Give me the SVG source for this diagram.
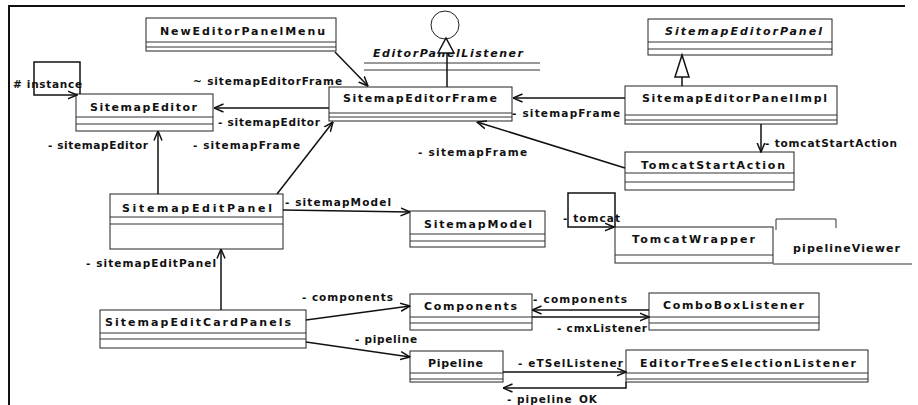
<svg xmlns="http://www.w3.org/2000/svg" width="918" height="405" viewBox="0 0 918 405">
<defs>
<style>
.box{fill:#fff;stroke:#222;stroke-width:1}
.sep{stroke:#333;stroke-width:1}
.nm{font-family:"DejaVu Sans","Liberation Sans",sans-serif;font-weight:bold;font-size:11px;fill:#111}
.it{font-style:italic}
.lb{font-family:"DejaVu Sans","Liberation Sans",sans-serif;font-weight:bold;font-size:10.5px;fill:#111}
.e{fill:none;stroke:#111;stroke-width:1.5;marker-end:url(#open)}
.ln{fill:none;stroke:#111;stroke-width:1.5}
.tri{fill:#fff;stroke:#111;stroke-width:1.5}
</style>
<marker id="open" markerUnits="userSpaceOnUse" viewBox="0 0 10 10" markerWidth="10" markerHeight="10" refX="9.5" refY="5" orient="auto">
<path d="M0,1 L9.5,5 L0,9" fill="none" stroke="#111" stroke-width="1.5"/>
</marker>
</defs>
<rect width="918" height="405" fill="#fff"/>
<path d="M9,405 V6 H905" fill="none" stroke="#111" stroke-width="2"/>

<g id="NewEditorPanelMenu">
<rect class="box" x="146" y="18" width="190" height="33"/>
<line class="sep" x1="146" y1="42" x2="336" y2="42"/>
<line class="sep" x1="146" y1="47" x2="336" y2="47"/>
<text class="nm" x="160" y="35" textLength="165">NewEditorPanelMenu</text>
</g>
<g id="EditorPanelListener">
<circle class="box" cx="445" cy="25" r="14"/>
<text class="nm it" x="373" y="57" textLength="150">EditorPanelListener</text>
<line class="sep" x1="364" y1="63" x2="540" y2="63"/>
<line class="sep" x1="364" y1="70" x2="540" y2="70"/>
</g>
<g id="SitemapEditorPanel">
<rect class="box" x="648" y="19" width="184" height="36"/>
<line class="sep" x1="648" y1="42" x2="832" y2="42"/>
<line class="sep" x1="648" y1="49" x2="832" y2="49"/>
<text class="nm it" x="665" y="35" textLength="157">SitemapEditorPanel</text>
</g>
<g id="SitemapEditor">
<rect class="box" x="76" y="94" width="137" height="37"/>
<line class="sep" x1="76" y1="117" x2="213" y2="117"/>
<line class="sep" x1="76" y1="124" x2="213" y2="124"/>
<text class="nm" x="90" y="111" textLength="107">SitemapEditor</text>
</g>
<g id="SitemapEditorFrame">
<rect class="box" x="329" y="87" width="183" height="34"/>
<line class="sep" x1="329" y1="113" x2="512" y2="113"/>
<line class="sep" x1="329" y1="117" x2="512" y2="117"/>
<text class="nm" x="343" y="102" textLength="154">SitemapEditorFrame</text>
</g>
<g id="SitemapEditorPanelImpl">
<rect class="box" x="625" y="86" width="212" height="38"/>
<line class="sep" x1="625" y1="115" x2="837" y2="115"/>
<line class="sep" x1="625" y1="120" x2="837" y2="120"/>
<text class="nm" x="642" y="102" textLength="185">SitemapEditorPanelImpl</text>
</g>
<g id="TomcatStartAction">
<rect class="box" x="625" y="152" width="169" height="38"/>
<line class="sep" x1="625" y1="173" x2="794" y2="173"/>
<line class="sep" x1="625" y1="182" x2="794" y2="182"/>
<text class="nm" x="641" y="169" textLength="144">TomcatStartAction</text>
</g>
<g id="SitemapEditPanel">
<rect class="box" x="110" y="194" width="173" height="55"/>
<line class="sep" x1="110" y1="217" x2="283" y2="217"/>
<line class="sep" x1="110" y1="224" x2="283" y2="224"/>
<text class="nm" x="122" y="212" textLength="150">SitemapEditPanel</text>
</g>
<g id="SitemapModel">
<rect class="box" x="410" y="211" width="135" height="36"/>
<line class="sep" x1="410" y1="234" x2="545" y2="234"/>
<line class="sep" x1="410" y1="241" x2="545" y2="241"/>
<text class="nm" x="424" y="228" textLength="108">SitemapModel</text>
</g>
<g id="TomcatWrapper">
<rect class="box" x="615" y="227" width="158" height="36"/>
<line class="sep" x1="615" y1="255" x2="773" y2="255"/>
<text class="nm" x="632" y="243" textLength="123">TomcatWrapper</text>
</g>
<g id="pipelineViewer">
<path d="M776,230 V219 H836 V228" fill="none" stroke="#333" stroke-width="1"/>
<line class="sep" x1="773" y1="264" x2="912" y2="264"/>
<text class="nm" x="793" y="252" textLength="107">pipelineViewer</text>
</g>
<g id="SitemapEditCardPanels">
<rect class="box" x="100" y="310" width="206" height="38"/>
<line class="sep" x1="100" y1="333" x2="306" y2="333"/>
<line class="sep" x1="100" y1="339" x2="306" y2="339"/>
<text class="nm" x="105" y="326" textLength="186">SitemapEditCardPanels</text>
</g>
<g id="Components">
<rect class="box" x="410" y="294" width="122" height="36"/>
<line class="sep" x1="410" y1="317" x2="532" y2="317"/>
<line class="sep" x1="410" y1="323" x2="532" y2="323"/>
<text class="nm" x="424" y="310" textLength="93">Components</text>
</g>
<g id="ComboBoxListener">
<rect class="box" x="649" y="293" width="170" height="37"/>
<line class="sep" x1="649" y1="317" x2="819" y2="317"/>
<line class="sep" x1="649" y1="323" x2="819" y2="323"/>
<text class="nm" x="663" y="309" textLength="141">ComboBoxListener</text>
</g>
<g id="Pipeline">
<rect class="box" x="410" y="351" width="93" height="31"/>
<line class="sep" x1="410" y1="373" x2="503" y2="373"/>
<line class="sep" x1="410" y1="379" x2="503" y2="379"/>
<text class="nm" x="428" y="367" textLength="55">Pipeline</text>
</g>
<g id="EditorTreeSelectionListener">
<rect class="box" x="626" y="350" width="242" height="32"/>
<line class="sep" x1="626" y1="373" x2="868" y2="373"/>
<line class="sep" x1="626" y1="379" x2="868" y2="379"/>
<text class="nm" x="640" y="367" textLength="216">EditorTreeSelectionListener</text>
</g>

<g id="connectors">
<path class="ln" d="M447,87 V53"/>
<polygon class="tri" points="446,38 438,53 454,53"/>
<path class="ln" d="M682,86 V77"/>
<polygon class="tri" points="682,55 675,77 689,77"/>
<path class="e" d="M80,94 V62 H34 V95 H77"/>
<path class="e" d="M335,52 L368,86"/>
<path class="e" d="M625,98 H513"/>
<path class="e" d="M329,108 H214"/>
<path class="e" d="M761,124 V152"/>
<path class="e" d="M625,168 L477,122"/>
<path class="e" d="M158,194 V131"/>
<path class="e" d="M277,194 L333,122"/>
<path class="e" d="M283,210 L410,212"/>
<path class="e" d="M615,227 V193 H568 V227 H614"/>
<path class="e" d="M221,310 V249"/>
<path class="e" d="M306,320 L410,306"/>
<path class="e" d="M306,342 L410,357"/>
<path class="e" d="M649,310 H532"/>
<path class="e" d="M532,317 H649"/>
<path class="e" d="M503,372 H626"/>
<path class="e" d="M626,382 V388 H503"/>
<text class="lb" x="13" y="88" textLength="69"># instance</text>
<text class="lb" x="193" y="85" textLength="149">~ sitemapEditorFrame</text>
<text class="lb" x="218" y="126" textLength="102">- sitemapEditor</text>
<text class="lb" x="512" y="117" textLength="108">- sitemapFrame</text>
<text class="lb" x="48" y="149" textLength="100">- sitemapEditor</text>
<text class="lb" x="193" y="149" textLength="107">- sitemapFrame</text>
<text class="lb" x="418" y="156" textLength="109">- sitemapFrame</text>
<text class="lb" x="765" y="147" textLength="132">- tomcatStartAction</text>
<text class="lb" x="285" y="206" textLength="106">- sitemapModel</text>
<text class="lb" x="563" y="222" textLength="57">- tomcat</text>
<text class="lb" x="86" y="267" textLength="130">- sitemapEditPanel</text>
<text class="lb" x="302" y="301" textLength="91">- components</text>
<text class="lb" x="355" y="343" textLength="62">- pipeline</text>
<text class="lb" x="533" y="303" textLength="94">- components</text>
<text class="lb" x="557" y="332" textLength="90">- cmxListener</text>
<text class="lb" x="518" y="367" textLength="105">- eTSelListener</text>
<text class="lb" x="507" y="403" textLength="90">- pipeline_OK</text>
</g>
</svg>
